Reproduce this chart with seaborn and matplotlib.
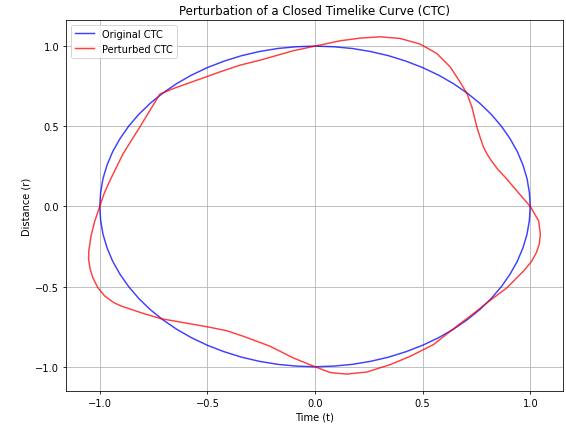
"""Perturbation of a closed timelike curve: original vs perturbed loop."""

import matplotlib

matplotlib.use("Agg")

import matplotlib.pyplot as plt
import pandas as pd
import seaborn as sns

# Original CTC: the unit loop, read every 5 degrees
orig_t = [1.000, 0.996, 0.985, 0.966, 0.940, 0.906, 0.866, 0.819, 0.766, 0.707,
          0.643, 0.574, 0.500, 0.423, 0.342, 0.259, 0.174, 0.087,
          0.000, -0.087, -0.174, -0.259, -0.342, -0.423, -0.500, -0.574, -0.643,
          -0.707, -0.766, -0.819, -0.866, -0.906, -0.940, -0.966, -0.985, -0.996,
          -1.000, -0.996, -0.985, -0.966, -0.940, -0.906, -0.866, -0.819, -0.766,
          -0.707, -0.643, -0.574, -0.500, -0.423, -0.342, -0.259, -0.174, -0.087,
          0.000, 0.087, 0.174, 0.259, 0.342, 0.423, 0.500, 0.574, 0.643,
          0.707, 0.766, 0.819, 0.866, 0.906, 0.940, 0.966, 0.985, 0.996, 1.000]
orig_r = [0.000, 0.087, 0.174, 0.259, 0.342, 0.423, 0.500, 0.574, 0.643, 0.707,
          0.766, 0.819, 0.866, 0.906, 0.940, 0.966, 0.985, 0.996,
          1.000, 0.996, 0.985, 0.966, 0.940, 0.906, 0.866, 0.819, 0.766,
          0.707, 0.643, 0.574, 0.500, 0.423, 0.342, 0.259, 0.174, 0.087,
          0.000, -0.087, -0.174, -0.259, -0.342, -0.423, -0.500, -0.574, -0.643,
          -0.707, -0.766, -0.819, -0.866, -0.906, -0.940, -0.966, -0.985, -0.996,
          -1.000, -0.996, -0.985, -0.966, -0.940, -0.906, -0.866, -0.819, -0.766,
          -0.707, -0.643, -0.574, -0.500, -0.423, -0.342, -0.259, -0.174, -0.087, 0.000]

# Perturbed CTC (counter-clockwise from t=1)
pert_t = [1.000, 0.960, 0.920, 0.885, 0.850, 0.822, 0.800, 0.783, 0.767, 0.752,
          0.729, 0.706, 0.674, 0.628, 0.566, 0.488, 0.395, 0.302, 0.210, 0.116,
          0.000, -0.101, -0.256, -0.349, -0.442, -0.550, -0.659, -0.721, -0.767,
          -0.814, -0.892, -0.953, -0.980, -1.000, -1.023, -1.040, -1.051, -1.052,
          -1.045, -1.032, -1.010, -0.977, -0.935, -0.899, -0.806, -0.713, -0.605,
          -0.496, -0.411, -0.333, -0.209, -0.101, 0.000, 0.070, 0.147, 0.240,
          0.349, 0.442, 0.550, 0.659, 0.725, 0.799, 0.892, 0.969, 1.005, 1.028,
          1.042, 1.047, 1.039, 1.000]
pert_r = [0.000, 0.062, 0.125, 0.180, 0.230, 0.280, 0.325, 0.369, 0.432, 0.495,
          0.620, 0.704, 0.776, 0.870, 0.954, 1.013, 1.048, 1.058, 1.050, 1.033,
          1.000, 0.971, 0.912, 0.881, 0.839, 0.787, 0.735, 0.700, 0.599,
          0.495, 0.328, 0.161, 0.080, 0.000, -0.090, -0.180, -0.277, -0.330,
          -0.390, -0.445, -0.505, -0.559, -0.600, -0.622, -0.664, -0.701, -0.726,
          -0.752, -0.775, -0.810, -0.872, -0.945, -1.000, -1.036, -1.046, -1.033,
          -0.987, -0.935, -0.862, -0.747, -0.680, -0.601, -0.507, -0.403, -0.345, -0.290,
          -0.235, -0.173, -0.090, 0.000]

df = pd.concat([
    pd.DataFrame({"t": orig_t, "r": orig_r, "curve": "Original CTC"}),
    pd.DataFrame({"t": pert_t, "r": pert_r, "curve": "Perturbed CTC"}),
], ignore_index=True)

fig = plt.figure(figsize=(8.0, 6.035), dpi=70.75)
ax = fig.add_axes([0.1166, 0.082, 0.878, 0.869])
sns.lineplot(data=df, x="t", y="r", hue="curve", units="curve", estimator=None,
             sort=False, palette={"Original CTC": "blue", "Perturbed CTC": "red"},
             alpha=0.75, linewidth=1.5, ax=ax)
ax.set_title("Perturbation of a Closed Timelike Curve (CTC)")
ax.set_xlabel("Time (t)")
ax.set_ylabel("Distance (r)")
ax.set_xticks([-1.0, -0.5, 0.0, 0.5, 1.0])
ax.set_yticks([-1.0, -0.5, 0.0, 0.5, 1.0])
ax.grid(True)
ax.legend(loc="upper left", title=None)
fig.savefig("out.png", dpi=70.75)
